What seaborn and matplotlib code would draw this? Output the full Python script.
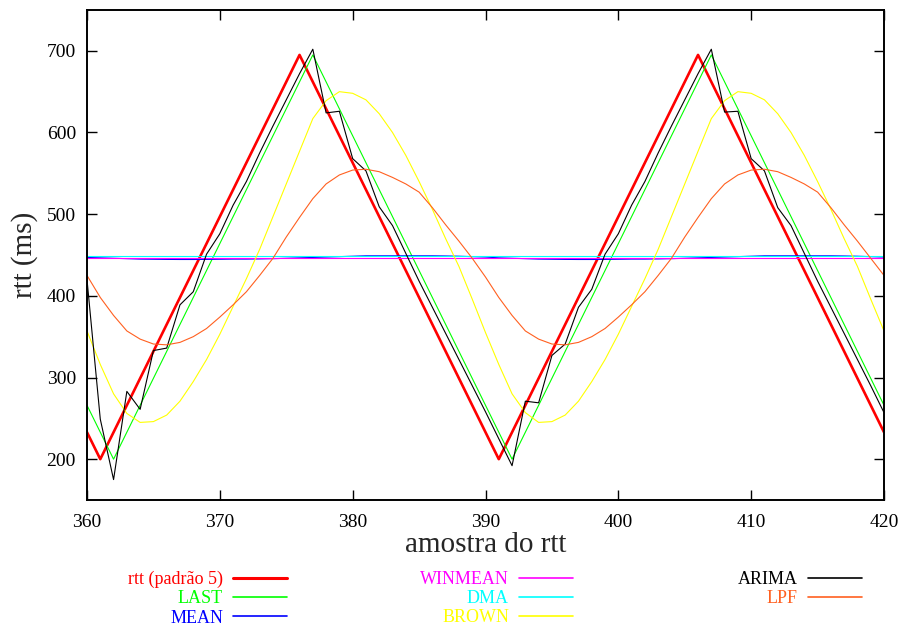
import matplotlib
matplotlib.use("Agg")
import matplotlib.pyplot as plt
import seaborn as sns
import pandas as pd
from matplotlib.lines import Line2D

x = list(range(360, 421))

rtt = [233, 200, 233, 266, 299, 332, 365, 398, 431, 464,
       497, 530, 563, 596, 629, 662, 695, 662, 629, 596,
       563, 530, 497, 464, 431, 398, 365, 332, 299, 266,
       233, 200, 233, 266, 299, 332, 365, 398, 431, 464,
       497, 530, 563, 596, 629, 662, 695, 662, 629, 596,
       563, 530, 497, 464, 431, 398, 365, 332, 299, 266,
       233]

last = [266, 233, 200, 233, 266, 299, 332, 365, 398, 431,
        464, 497, 530, 563, 596, 629, 662, 695, 662, 629,
        596, 563, 530, 497, 464, 431, 398, 365, 332, 299,
        266, 233, 200, 233, 266, 299, 332, 365, 398, 431,
        464, 497, 530, 563, 596, 629, 662, 695, 662, 629,
        596, 563, 530, 497, 464, 431, 398, 365, 332, 299,
        266]

mean = [447, 446.5, 446, 445.5, 445, 444.8, 444.6, 444.5, 444.5, 444.6,
        444.8, 445, 445, 445.2, 445.5, 446, 446.5, 447, 447.5, 448,
        448.5, 449, 449, 449, 449, 449, 449, 448.8, 448.5, 448,
        447.5, 446.5, 446, 445.5, 445, 444.8, 444.6, 444.5, 444.5, 444.6,
        444.8, 445, 445, 445.2, 445.5, 446, 446.5, 447, 447.5, 448,
        448.5, 449, 449, 449, 449, 449, 449, 448.8, 448.5, 448,
        447.5]

winmean = [446] * 61

dma = [448.5] * 61

brown = [357, 316, 280, 256, 245, 246, 254, 271, 295, 322,
         353, 387, 421, 457, 497, 537, 577, 617, 639, 650,
         648, 640, 623, 600, 572, 540, 506, 470, 436, 396,
         355, 316, 280, 257, 245, 246, 254, 271, 295, 322,
         353, 387, 421, 457, 497, 537, 577, 617, 639, 650,
         648, 640, 623, 600, 572, 540, 506, 470, 436, 396,
         357]

arima = [420, 249, 175, 283, 261, 333, 336, 389, 405, 451,
         476, 511, 540, 575, 608, 640, 672, 702, 624, 626,
         568, 553, 509, 486, 452, 418, 386, 354, 322, 290,
         258, 225, 192, 271, 269, 327, 341, 386, 408, 451,
         476, 511, 540, 575, 608, 640, 672, 702, 625, 626,
         568, 553, 508, 486, 452, 418, 386, 354, 322, 290,
         257]

lpf = [425, 398, 376, 357, 347, 341, 340, 343, 350, 360,
       374, 389, 405, 425, 446, 472, 496, 519, 537, 548,
       554, 555, 552, 545, 537, 527, 508, 487, 467, 446,
       423, 398, 376, 357, 347, 341, 340, 343, 350, 360,
       374, 389, 405, 425, 446, 472, 496, 519, 537, 548,
       554, 555, 552, 545, 537, 527, 508, 487, 467, 446,
       425]

series_names = ["rtt (padrão 5)", "LAST", "MEAN", "WINMEAN", "DMA", "BROWN", "ARIMA", "LPF"]
series_values = [rtt, last, mean, winmean, dma, brown, arima, lpf]
colors = ["#ff0000", "#00ff00", "#0000ff", "#ff00ff", "#00ffff", "#ffff00", "#000000", "#ff6020"]
widths = [1.9, 0.8, 0.8, 0.8, 0.8, 0.8, 0.8, 0.8]

x_ticks = [360, 370, 380, 390, 400, 410, 420]
y_ticks = [200, 300, 400, 500, 600, 700]

sns.set_style("ticks")
plt.rcParams["font.family"] = ["Liberation Serif", "DejaVu Serif"]

fig = plt.figure(figsize=(8.98, 6.25), dpi=100)
ax = fig.add_axes([87 / 898, 1 - 500 / 625, (884 - 87) / 898, (500 - 10) / 625])

for name, vals, c, lw in zip(series_names, series_values, colors, widths):
    df = pd.DataFrame({"x": x, "y": vals})
    sns.lineplot(data=df, x="x", y="y", ax=ax, color=c, linewidth=lw, legend=False)

ax.set_xlim(360, 420)
ax.set_ylim(150, 750)
ax.set_xticks(x_ticks)
ax.set_yticks(y_ticks)
ax.tick_params(direction="in", length=7, width=1.0, labelsize=14, top=True, right=True,
               pad=8, colors="black")
ax.tick_params(axis="x", pad=10)
for s in ax.spines.values():
    s.set_linewidth(1.4)
    s.set_color("black")
ax.set_xlabel("amostra do rtt", fontsize=21, labelpad=1)
ax.set_ylabel("rtt (ms)", fontsize=21, labelpad=6)

groups = [[0, 1, 2], [3, 4, 5], [6, 7]]
anchors = [287 / 898, 573 / 898, 862 / 898]
leg_widths = [2.2, 1.2, 1.2, 1.2, 1.2, 1.2, 1.2, 1.2]
for g, ax_x in zip(groups, anchors):
    handles = [Line2D([], [], color=colors[i], linewidth=leg_widths[i]) for i in g]
    labels = [series_names[i] for i in g]
    leg = fig.legend(handles, labels, loc="upper right", bbox_to_anchor=(ax_x, 1 - 571 / 625),
                     frameon=False, markerfirst=False, handlelength=3.0, handletextpad=0.55,
                     labelspacing=0.12, borderpad=0, borderaxespad=0, fontsize=13)
    for t, i in zip(leg.get_texts(), g):
        t.set_color(colors[i])

fig.savefig("out.png", dpi=100)
